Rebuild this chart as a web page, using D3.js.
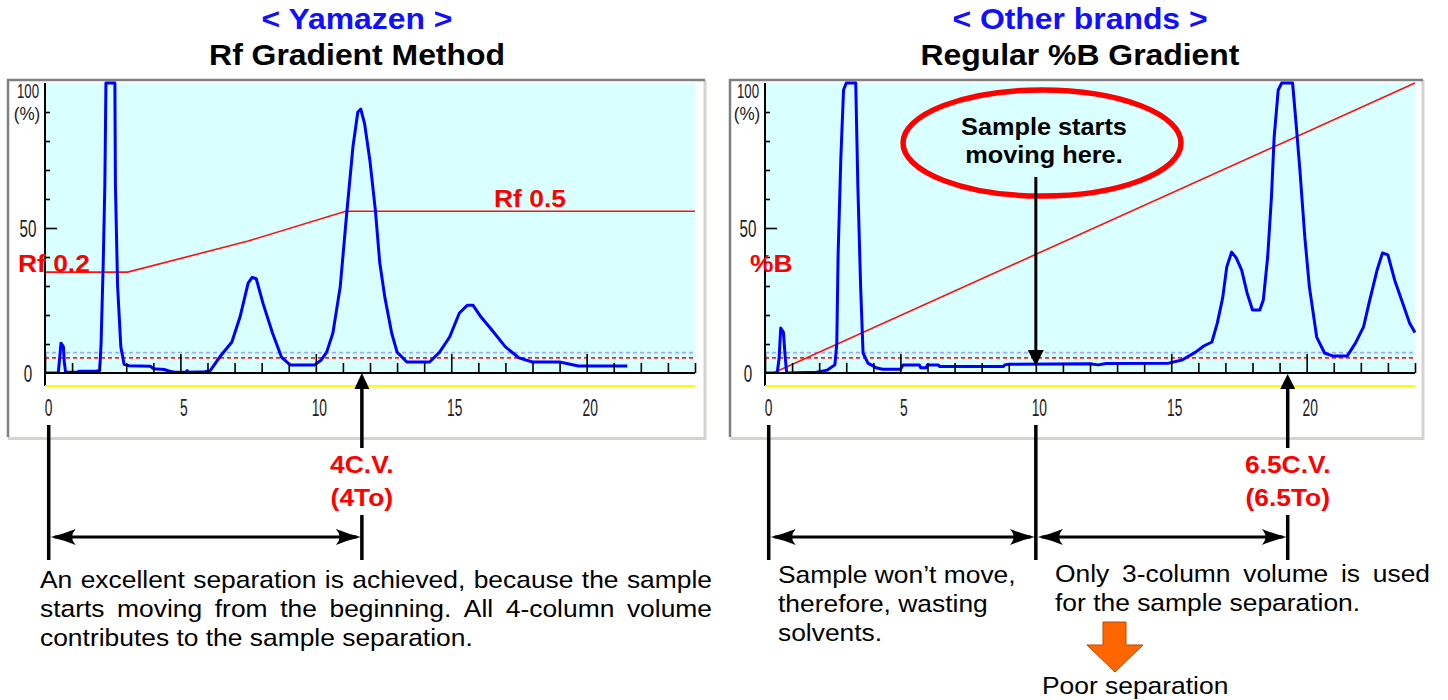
<!DOCTYPE html>
<html><head><meta charset="utf-8">
<script src="https://cdn.jsdelivr.net/npm/d3@7"></script>
<style>body{margin:0;background:#fff;} svg{display:block;}</style>
</head><body><svg id="c" width="1448" height="700"></svg>
<script>
// ---------- data ----------
const cvDomain = [0, 24];
const cvTicks = d3.range(0, 25);
const xTickLabels = [0, 5, 10, 15, 20];
const yTickLabels = [0, 50, 100];
const yMinorTicks = [10, 20, 30, 40, 60, 70, 80, 90];
const thresholdBlue = 7.0;
const thresholdRed = 5.2;

// Yamazen chromatogram (CV, %)
const leftTrace = [
  [0,0],[0.49,0],[0.55,6],[0.59,10.3],[0.68,9],[0.71,4],[0.76,0.3],[1.2,0.3],[1.25,0.6],[1.9,0.6],
  [2.02,1],[2.07,10],[2.15,38],[2.21,65],[2.25,100],[2.58,100],[2.6,65],[2.68,30],[2.8,9],[2.92,3],
  [3.1,2.5],[3.9,2.3],[4.0,1.5],[4.4,1.2],[4.6,0.6],[4.8,0.3],[5.2,0.3],[5.25,0.8],[5.3,0.3],[5.9,0.4],
  [6.1,0.8],[6.45,5.5],[6.9,10.7],[7.2,19.3],[7.5,31],[7.65,33],[7.8,32.5],[8.05,24],[8.4,13.8],[8.73,5.5],
  [9.05,2.8],[9.96,2.8],[10.2,4.5],[10.4,7.2],[10.63,13.8],[10.9,29.7],[11.14,55],[11.37,78],[11.55,90],
  [11.66,91],[11.8,86],[12.0,73],[12.2,56],[12.36,38],[12.55,26],[12.8,13.8],[13.0,7.2],[13.36,3.8],
  [14.2,3.8],[14.57,7.2],[14.94,12.4],[15.3,20.7],[15.6,23.4],[15.8,23.4],[16.1,19.3],[16.5,14.8],
  [17.0,9.0],[17.5,5.2],[18.0,3.8],[19.0,3.8],[19.7,2.4],[21.5,2.4]
];
// Rf gradient (CV, %)
const leftGradient = [[0,34.8],[3.05,34.8],[7.5,45.5],[11.1,55.8],[24,55.8]];

// Other brands chromatogram (CV, %)
const rightTrace = [
  [0,0],[0.45,0],[0.52,5],[0.58,15.5],[0.68,14],[0.75,5],[0.8,0],[1.9,0.3],[2.3,1],[2.58,2.8],
  [2.65,10],[2.7,41],[2.8,74],[2.9,97.6],[3.0,100],[3.35,100],[3.43,64],[3.53,30],[3.62,6.9],[3.8,3.4],
  [4.13,1.7],[4.35,1.3],[5.0,1.3],[5.1,2.8],[5.7,2.8],[5.75,1.8],[5.95,1.8],[6.0,2.8],[6.4,2.8],[6.45,2.2],
  [8.8,2.2],[8.85,2.8],[9.0,3.0],[12.0,3.2],[12.3,2.8],[12.6,3.3],[14.9,3.4],[15.4,4.5],[15.9,7.2],
  [16.2,9.3],[16.5,10.7],[16.7,17.2],[16.9,26],[17.05,36.6],[17.23,41.7],[17.4,39.7],[17.6,35.5],
  [17.8,27.6],[18.0,21.7],[18.27,21.7],[18.4,25.2],[18.56,40],[18.7,60.7],[18.8,81.4],[18.95,97.6],
  [19.08,100],[19.48,100],[19.6,87],[19.75,70],[19.93,47],[20.1,29.7],[20.37,12.4],[20.66,6.9],
  [20.95,5.9],[21.5,5.9],[21.8,10.3],[22.1,15.9],[22.3,24],[22.6,35.5],[22.8,41.4],[23.0,40.7],
  [23.25,32],[23.55,24],[23.8,17.2],[24.0,14]
];
// linear %B gradient (CV, %)
const rightGradient = [[0.3,0],[24,100]];

const leftTitles = ["< Yamazen >", "Rf Gradient Method"];
const rightTitles = ["< Other brands >", "Regular %B Gradient"];
const leftMarkers = [0.1, 11.7];        // start, 4 C.V. elution
const rightMarkers = [0.1, 10.0, 19.3]; // start, sample starts moving, 6.5 C.V. elution

// ---------- drawing ----------
const svg = d3.select("#c");
const SX = 1.1;
const FONT = "'Liberation Sans', Arial, Helvetica, sans-serif";

function txt(g, x, y, s, o = {}) {
  const sx = o.sx ?? SX;
  return g.append("text")
    .attr("transform", `translate(${x},${y}) scale(${sx},1)`)
    .attr("text-anchor", o.anchor || "start")
    .attr("font-family", o.family || FONT)
    .attr("font-size", o.size || 24)
    .attr("font-weight", o.weight || "normal")
    .attr("fill", o.fill || "#000")
    .text(s);
}
function justify(g, line, x0, x1, y, o = {}) {
  const words = line.split(" ");
  const nodes = words.map(w => txt(g, 0, y, w, o));
  const widths = nodes.map(n => n.node().getComputedTextLength() * SX);
  const gap = (x1 - x0 - d3.sum(widths)) / (words.length - 1);
  let x = x0;
  nodes.forEach((n, i) => { n.attr("transform", `translate(${x},${y}) scale(${SX},1)`); x += widths[i] + gap; });
}
function headDown(g, x, tipY, len, hw) {
  g.append("path").attr("d", `M${x},${tipY} L${x - hw},${tipY + len} L${x + hw},${tipY + len} Z`).attr("fill", "#000");
}
function headUp(g, x, tipY, len, hw) {
  g.append("path").attr("d", `M${x},${tipY} L${x - hw},${tipY - len} L${x + hw},${tipY - len} Z`).attr("fill", "#000");
}
function barb(g, tx, ty, dir) { // dir = +1 right-pointing, -1 left-pointing
  const L = 25 * dir, H = 8;
  g.append("path")
    .attr("d", `M${tx},${ty} Q${tx - L * 0.5},${ty - 3} ${tx - L},${ty - H} Q${tx - L * 0.7},${ty} ${tx - L},${ty + H} Q${tx - L * 0.5},${ty + 3} ${tx},${ty} Z`)
    .attr("fill", "#000");
}
function dblArrow(g, xa, xb, y) {
  g.append("line").attr("x1", xa + 4).attr("x2", xb - 4).attr("y1", y).attr("y2", y).attr("stroke", "#000").attr("stroke-width", 3);
  barb(g, xa, y, -1);
  barb(g, xb, y, 1);
}
function vline(g, x, y1, y2) {
  g.append("line").attr("x1", x).attr("x2", x).attr("y1", y1).attr("y2", y2).attr("stroke", "#000").attr("stroke-width", 3.5);
}

function chart(cfg) {
  const x = d3.scaleLinear().domain(cvDomain).range([cfg.x0, cfg.x1]);
  const y = d3.scaleLinear().domain([0, 100]).range([373, 83]);
  const g = svg.append("g");

  // panel with bevel
  g.append("rect").attr("x", cfg.px).attr("y", 80).attr("width", cfg.pw).attr("height", 357).attr("fill", "#fff");
  g.append("path").attr("d", `M${cfg.px + cfg.pw},437 L${cfg.px + cfg.pw},80`).attr("stroke", "#d6d3ce").attr("stroke-width", 3).attr("fill", "none");
  g.append("path").attr("d", `M${cfg.px},438.5 L${cfg.px + cfg.pw + 1.5},438.5`).attr("stroke", "#d6d3ce").attr("stroke-width", 3);
  g.append("path").attr("d", `M${cfg.px},437 L${cfg.px},80 L${cfg.px + cfg.pw},80`).attr("stroke", "#808080").attr("stroke-width", 2.5).attr("fill", "none");

  // plot background
  g.append("rect").attr("x", x(0)).attr("y", y(100)).attr("width", x(24) - x(0)).attr("height", y(0) - y(100)).attr("fill", "#d9ffff");

  const clipId = "clip" + cfg.id;
  svg.append("clipPath").attr("id", clipId).append("rect")
    .attr("x", x(0)).attr("y", y(100) - 2).attr("width", x(24) - x(0) + 2).attr("height", y(0) - y(100) + 2);
  const pg = g.append("g").attr("clip-path", `url(#${clipId})`);

  // thresholds
  pg.append("line").attr("x1", x(0)).attr("x2", x(24)).attr("y1", y(thresholdBlue)).attr("y2", y(thresholdBlue))
    .attr("stroke", "#a0a8ff").attr("stroke-width", 1.8).attr("stroke-dasharray", "4,3");
  pg.append("line").attr("x1", x(0)).attr("x2", x(24)).attr("y1", y(thresholdRed)).attr("y2", y(thresholdRed))
    .attr("stroke", "#ff2020").attr("stroke-width", 1.8).attr("stroke-dasharray", "4,3");

  const line = d3.line().x(d => x(d[0])).y(d => y(d[1]));
  pg.append("path").datum(cfg.gradient).attr("d", line).attr("fill", "none").attr("stroke", "#ff1010").attr("stroke-width", 1.6);

  // x ticks (upward)
  const minor = g.append("g").attr("transform", "translate(0,373)")
    .call(d3.axisTop(x).tickValues(cvTicks.filter(v => v % 5 !== 0)).tickSize(10).tickFormat(""));
  const major = g.append("g").attr("transform", "translate(0,373)")
    .call(d3.axisTop(x).tickValues(cvTicks.filter(v => v % 5 === 0)).tickSize(19).tickFormat(""));
  [minor, major].forEach(a => { a.select(".domain").remove(); a.selectAll("line").attr("stroke", "#000").attr("stroke-width", 1.6); });

  // y ticks (inward)
  const yMin = g.append("g").attr("transform", `translate(${x(0)},0)`)
    .call(d3.axisRight(y).tickValues(yMinorTicks).tickSize(5).tickFormat(""));
  const yMaj = g.append("g").attr("transform", `translate(${x(0)},0)`)
    .call(d3.axisRight(y).tickValues([50]).tickSize(12).tickFormat(""));
  [yMin, yMaj].forEach(a => { a.select(".domain").remove(); a.selectAll("line").attr("stroke", "#000").attr("stroke-width", 1.6); });

  // trace
  pg.append("path").datum(cfg.trace).attr("d", line).attr("fill", "none")
    .attr("stroke", "#0000ff").attr("stroke-width", 3).attr("stroke-linejoin", "round");

  // axis lines
  g.append("line").attr("x1", x(0)).attr("x2", x(24)).attr("y1", 373).attr("y2", 373).attr("stroke", "#000").attr("stroke-width", 2.2);
  g.append("line").attr("x1", x(0)).attr("x2", x(0)).attr("y1", 83).attr("y2", 386).attr("stroke", "#000").attr("stroke-width", 2);
  g.append("line").attr("x1", x(0)).attr("x2", x(24)).attr("y1", 386).attr("y2", 386).attr("stroke", "#ffff00").attr("stroke-width", 2);

  // x tick labels
  const xl = g.append("g").attr("transform", "translate(0,400)")
    .call(d3.axisBottom(x).tickValues(xTickLabels).tickSize(0).tickPadding(0));
  xl.select(".domain").remove();
  xl.selectAll("text").attr("font-family", FONT).attr("font-size", 23).attr("fill", "#222")
    .attr("x", 5).attr("transform", "scale(0.6,1)");

  // y tick labels
  const yl = g.append("g").attr("transform", `translate(${x(0)},0)`)
    .call(d3.axisLeft(y).tickValues(yTickLabels).tickSize(0).tickPadding(0));
  yl.select(".domain").remove();
  yl.selectAll("text").attr("font-family", FONT).attr("font-size", d => d === 100 ? 20 : 23).attr("fill", "#222")
    .attr("text-anchor", "middle").attr("x", -17 / 0.66).attr("transform", "scale(0.66,1)")
    .attr("dy", d => d === 100 ? "0.74em" : "0.36em");
  txt(g, x(0) - 18, 120, "(%)", { size: 19, sx: 0.9, anchor: "middle", fill: "#222" });

  // titles
  txt(svg, cfg.tcx, 29, cfg.titles[0], { size: 29, weight: "bold", anchor: "middle", fill: "#1010ff" });
  txt(svg, cfg.tcx, 65, cfg.titles[1], { size: 29, weight: "bold", anchor: "middle" });

  return { x, y, g };
}

// ---- Left chart ----
const L = chart({ id: "L", px: 8, pw: 697, x0: 45, x1: 695, trace: leftTrace, gradient: leftGradient, titles: leftTitles, tcx: 357 });
txt(L.g, 18, 272, "Rf 0.2", { size: 24, weight: "bold", fill: "#ff0000" });
txt(L.g, 530, 207, "Rf 0.5", { size: 24, weight: "bold", fill: "#ff0000", anchor: "middle" });

// annotations left
{
  const a = svg.append("g");
  const xs = L.x(leftMarkers[0]) + 1, xe = L.x(leftMarkers[1]);
  vline(a, xs, 425, 560);
  headUp(a, xe, 373, -16, 7.5);
  vline(a, xe, 387, 448);
  vline(a, xe, 515, 560);
  txt(a, xe, 473, "4C.V.", { size: 24, weight: "bold", fill: "#ff0000", anchor: "middle" });
  txt(a, xe, 506, "(4To)", { size: 24, weight: "bold", fill: "#ff0000", anchor: "middle" });
  dblArrow(a, xs + 2, xe - 1, 537);
  justify(a, "An excellent separation is achieved, because the sample", 40, 712, 588);
  justify(a, "starts moving from the beginning. All 4-column volume", 40, 712, 617);
  txt(a, 40, 646, "contributes to the sample separation.");
}

// ---- Right chart ----
const R = chart({ id: "R", px: 730, pw: 693, x0: 765, x1: 1415, trace: rightTrace, gradient: rightGradient, titles: rightTitles, tcx: 1080 });
txt(R.g, 750, 272, "%B", { size: 24, weight: "bold", fill: "#ff0000" });

{
  const a = svg.append("g");
  const xs = R.x(rightMarkers[0]) + 1, xm = R.x(rightMarkers[1]), xe = R.x(rightMarkers[2]);
  // callout
  a.append("ellipse").attr("cx", 1042).attr("cy", 143).attr("rx", 139).attr("ry", 53)
    .attr("fill", "none").attr("stroke", "#ff0000").attr("stroke-width", 5.5);
  txt(a, 1044, 135, "Sample starts", { size: 23, weight: "bold", anchor: "middle" });
  txt(a, 1044, 163, "moving here.", { size: 23, weight: "bold", anchor: "middle" });
  a.append("line").attr("x1", xm).attr("x2", xm).attr("y1", 177).attr("y2", 352).attr("stroke", "#000").attr("stroke-width", 3);
  headDown(a, xm, 366, -16, 8);

  vline(a, xs, 425, 560);
  vline(a, xm, 425, 560);
  headUp(a, xe, 374, -15, 7.5);
  vline(a, xe, 387, 448);
  vline(a, xe, 515, 560);
  txt(a, xe, 473, "6.5C.V.", { size: 24, weight: "bold", fill: "#ff0000", anchor: "middle" });
  txt(a, xe, 506, "(6.5To)", { size: 24, weight: "bold", fill: "#ff0000", anchor: "middle" });
  dblArrow(a, xs + 2, xm - 1, 537);
  dblArrow(a, xm + 2, xe - 1, 537);

  txt(a, 778, 583, "Sample won\u2019t move,");
  txt(a, 778, 612, "therefore, wasting");
  txt(a, 778, 641, "solvents.");
  justify(a, "Only 3-column volume is used", 1055, 1430, 582);
  txt(a, 1055, 611, "for the sample separation.");

  // orange down arrow
  a.append("path").attr("d", "M1103,622 L1126,622 L1126,645 L1143,645 L1115,672 L1087,645 L1103,645 Z")
    .attr("fill", "#ff6600").attr("stroke", "#b84a00").attr("stroke-width", 1);
  txt(a, 1042, 694, "Poor separation");
}
</script></body></html>
